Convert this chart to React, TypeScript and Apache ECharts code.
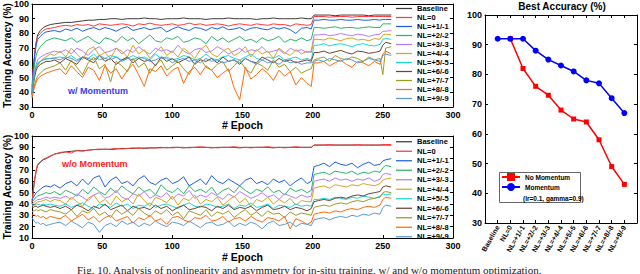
import { useEffect, useRef } from 'react';
import * as echarts from 'echarts';

const FONT = 'Liberation Sans, Arial, Helvetica, sans-serif';

// ---------- data ----------
const seriesNames = ['Baseline', 'NL=0', 'NL=+1/-1', 'NL=+2/-2', 'NL=+3/-3', 'NL=+4/-4', 'NL=+5/-5', 'NL=+6/-6', 'NL=+7/-7', 'NL=+8/-8', 'NL=+9/-9'];
const seriesColors = ['#3c3c3c', '#ff3b3b', '#1f5fe6', '#2fb36b', '#b57cf5', '#d8a51c', '#1fd6d6', '#6e4235', '#9c9c22', '#ff6a0e', '#5a9ad6'];

const epochs = [0, 1, 2, 3, 4, 6, 8, 10, 13, 16,
  20, 24, 28, 32, 36, 40, 44, 48, 52, 56, 60, 64, 68, 72, 76, 80, 84, 88, 92, 96, 100, 104, 108, 112, 116, 120, 124, 128, 132, 136, 140, 144, 148, 152, 156, 160, 164, 168, 172, 176, 180, 184, 188, 192, 196,
  199, 201, 204, 208, 212, 216, 220, 224, 228, 232, 236, 240, 244, 248, 250, 252, 256];

// w/ Momentum
const momBaseline = [38, 55, 66, 74, 79, 82, 84, 85, 86, 86.5, 87, 87.5, 87.5, 88, 88.5, 89, 89, 89.5, 89.5, 90, 90, 89.5, 90, 90, 90, 90.5, 90, 90, 89.5, 90, 90, 90, 90.5, 90, 90, 90, 89.5, 90, 90, 90, 90.5, 90, 90, 90, 90, 89.5, 90, 90, 90.5, 90, 90, 90, 90, 90.5, 90, 90, 92.5, 92.5, 92.5, 92.5, 92, 92.5, 92.5, 92.5, 92.5, 92.5, 92, 92.5, 92.5, 92.5, 92.5, 92.5];
const momNL0 = [44, 58, 68, 74, 78, 80, 82, 83, 83.5, 84, 85, 85.5, 85, 86, 85.5, 86, 85, 86.5, 86, 85.5, 86, 86.5, 86, 85, 86.5, 86, 87, 86, 85.5, 86, 86.5, 85.5, 86, 87, 86, 86.5, 85.5, 86, 86.5, 86, 85, 86, 86.5, 86, 85.5, 86.5, 86, 85.5, 86.5, 86, 86, 85, 86.5, 86, 85.5, 86, 91.5, 91.5, 91.5, 91, 91.5, 91.5, 91.5, 91, 91.5, 91.5, 91.5, 91.5, 91.5, 91.5, 91.5, 91.5];
const momNL1 = [42, 56, 66, 72, 76, 78, 80, 81, 81.5, 82, 81, 83, 82, 83.5, 81.5, 83, 84, 82.5, 84, 83, 81.5, 83.5, 84.5, 82, 83, 84, 82.5, 83.5, 84, 81, 83, 84.5, 83, 82, 84, 83.5, 82, 84, 83, 84.5, 82.5, 83, 84, 82, 83.5, 84, 83, 82.5, 84, 83, 84, 82.5, 80, 83.5, 84, 83, 89, 89, 89.5, 89, 89, 89.5, 89, 89, 89.5, 89, 89, 89.5, 89, 89.5, 89.5, 89.5];
const momNL2 = [40, 52, 60, 65, 68, 71, 73, 75, 76, 77, 76, 75, 77, 74, 76, 78, 75, 73, 77, 76, 74, 78, 75, 77, 73, 76, 79, 75, 74, 77, 76, 78, 74, 75, 77, 76, 73, 78, 75, 77, 74, 76, 78, 75, 76, 74, 77, 75, 76, 78, 74, 76, 75, 77, 75, 76, 84, 84, 83.5, 84, 84.5, 83.5, 84, 84, 83.5, 84, 84.5, 84, 84, 86.5, 86.5, 86.5];
const momNL3 = [39, 48, 55, 59, 62, 64, 65, 66, 67, 68, 67, 69, 66, 70, 68, 65, 69, 71, 67, 68, 70, 66, 69, 67, 71, 68, 66, 70, 68, 69, 67, 72, 68, 66, 69, 70, 67, 68, 71, 69, 66, 68, 70, 67, 69, 68, 71, 67, 68, 69, 66, 70, 68, 69, 67, 68, 79, 79, 79.5, 78.5, 79, 80, 79, 78.5, 79.5, 79, 78, 79, 79.5, 81.5, 81.5, 82];
const momNL4 = [37, 45, 52, 56, 58, 61, 63, 64, 66, 65, 68, 64, 70, 66, 62, 69, 71, 65, 67, 63, 70, 68, 64, 72, 66, 69, 63, 67, 71, 65, 68, 64, 70, 67, 63, 69, 72, 66, 64, 68, 70, 65, 67, 71, 64, 69, 66, 68, 63, 70, 67, 65, 69, 66, 68, 67, 76, 76, 75.5, 77, 76, 75, 76.5, 77, 75.5, 76, 75, 76.5, 76, 79, 79.5, 79];
const momNL5 = [40, 48, 54, 58, 60, 61, 62, 63, 63, 63.5, 64, 63, 65, 62, 64, 63, 66, 62, 63, 65, 64, 62, 63, 65, 63, 64, 62, 66, 63, 64, 62, 63, 65, 64, 62, 63, 66, 63, 62, 64, 65, 63, 62, 64, 66, 63, 62, 64, 63, 65, 62, 63, 64, 62, 63, 62, 72, 72, 73, 71.5, 72.5, 73, 72, 71, 72.5, 73, 72, 71.5, 72.5, 76, 76.5, 76];
const momNL6 = [39, 46, 51, 55, 57, 59, 60, 61, 61, 62, 60, 63, 61, 59, 64, 62, 60, 65, 61, 63, 59, 62, 64, 60, 63, 61, 62, 58, 64, 61, 63, 60, 62, 64, 59, 62, 61, 63, 60, 64, 61, 62, 59, 63, 61, 60, 64, 62, 60, 63, 61, 62, 60, 61, 62, 61, 67, 67, 68, 66.5, 67.5, 68.5, 67, 66, 68, 67.5, 66.5, 67, 68, 72, 74, 73];
const momNL7 = [36, 41, 46, 49, 51, 53, 55, 56, 57, 58, 60, 55, 62, 57, 52, 60, 64, 56, 59, 47, 61, 58, 54, 63, 57, 60, 53, 59, 62, 55, 58, 61, 56, 52, 60, 63, 57, 55, 59, 61, 54, 58, 62, 56, 53, 60, 58, 55, 62, 57, 59, 54, 57, 53, 55, 56, 62, 63, 64, 61, 65, 63, 62, 64, 63, 61, 64, 62, 63, 52, 70, 71];
const momNL8 = [37, 41, 44, 47, 49, 51, 52, 53, 54, 55, 56, 52, 58, 54, 50, 57, 55, 48, 58, 53, 56, 49, 55, 59, 52, 44, 56, 54, 58, 51, 55, 57, 46, 54, 57, 52, 58, 55, 50, 53, 56, 43, 35, 57, 49, 52, 56, 53, 48, 55, 51, 54, 45, 50, 46, 44, 60, 60, 61, 58, 60, 62, 59, 57, 61, 60, 58, 61, 59, 66, 68, 66];
const momNL9 = [39, 47, 53, 57, 59, 61, 62, 62.5, 63, 63, 62, 64, 63, 61, 64, 63, 62, 65, 63, 62, 64, 61, 63, 62, 64, 63, 61, 62, 64, 63, 60, 62, 63, 61, 62, 60, 63, 61, 62, 60, 61, 62, 60, 63, 61, 59, 62, 60, 61, 59, 62, 60, 61, 59, 60, 60, 61, 62, 61, 63, 62, 61, 63, 62, 60, 61, 63, 62, 61, 65, 66, 65];

// w/o Momentum
const noBaseline = [40, 52, 62, 69, 74, 77, 79, 80, 82, 84, 85, 86, 86.5, 87, 87, 87.5, 88, 88, 88.5, 88, 88.5, 89, 89, 89, 89.5, 89, 89.5, 89.5, 90, 89.5, 90, 90, 89.5, 90, 90, 90, 90, 89.5, 90, 90, 90, 90, 89.5, 90, 90, 90, 90, 90, 89.5, 90, 90, 90, 90, 90, 90, 90, 92, 92, 92, 92, 92, 92, 92, 92, 92, 92, 92, 92, 92, 92, 92, 92];
const noNL0 = [42, 54, 63, 70, 75, 77.5, 79.5, 80.5, 82.5, 84, 85.5, 86, 85, 87.5, 86.5, 87.5, 88, 88.5, 88, 88.5, 89, 88.5, 89, 89.5, 89, 89.5, 89.5, 89.5, 89.5, 90, 89.5, 90, 90, 89.5, 90, 90.5, 90, 90, 89.5, 90, 90, 90.5, 90, 90, 89.5, 90, 90, 90.5, 90, 90, 89.5, 90, 90.5, 90, 90, 90, 92, 92, 92, 92.5, 92, 92, 92, 92, 92.5, 92, 92, 92, 92, 92.5, 92.5, 92.5];
const noNL1 = [44, 46, 48, 50, 51, 53, 55, 56, 55, 57, 54, 58, 60, 56, 62, 57, 63, 65, 55, 61, 64, 58, 60, 56, 62, 65, 59, 57, 61, 63, 58, 60, 64, 56, 59, 62, 57, 65, 60, 58, 62, 59, 56, 61, 63, 58, 60, 57, 62, 59, 61, 56, 60, 63, 58, 60, 73, 74, 76, 73, 77, 75, 74, 76, 72, 75, 77, 74, 75, 78, 79, 80];
const noNL2 = [42, 43, 45, 46, 47, 48, 49, 50, 49, 51, 48, 52, 50, 47, 53, 49, 55, 51, 48, 54, 50, 56, 52, 49, 55, 51, 53, 48, 57, 52, 50, 54, 49, 56, 51, 53, 50, 55, 48, 52, 54, 50, 56, 52, 49, 53, 51, 55, 50, 52, 48, 54, 51, 53, 50, 52, 66, 67, 68, 66, 69, 68, 67, 69, 66, 68, 67, 69, 68, 72, 74, 73];
const noNL3 = [40, 41, 42, 43, 44, 44, 45, 46, 45, 46, 45, 47, 44, 49, 46, 43, 48, 50, 45, 47, 52, 46, 44, 49, 47, 51, 45, 48, 46, 50, 44, 49, 47, 52, 45, 48, 46, 50, 47, 44, 49, 46, 51, 48, 45, 47, 50, 46, 48, 44, 49, 47, 45, 48, 46, 47, 60, 61, 62, 60, 63, 61, 62, 60, 62, 61, 63, 60, 62, 66, 67, 66];
const noNL4 = [38, 39, 40, 41, 42, 42, 43, 44, 42, 44, 43, 40, 46, 42, 38, 45, 48, 41, 44, 39, 47, 42, 45, 40, 49, 43, 38, 46, 44, 41, 47, 39, 45, 43, 48, 40, 44, 42, 46, 39, 43, 47, 41, 45, 38, 44, 42, 46, 40, 44, 41, 45, 39, 43, 42, 42, 54, 55, 56, 54, 57, 56, 55, 57, 56, 58, 57, 56, 58, 61, 62, 63];
const noNL5 = [39, 39, 39, 40, 40, 39, 40, 39, 40, 39, 38, 40, 37, 39, 41, 38, 36, 40, 39, 37, 41, 38, 40, 36, 39, 38, 41, 37, 39, 40, 38, 36, 39, 41, 38, 37, 40, 39, 37, 38, 40, 36, 39, 38, 41, 37, 38, 40, 36, 39, 38, 37, 40, 38, 39, 38, 44, 44, 45, 44, 46, 45, 44, 46, 45, 47, 46, 45, 47, 49, 48, 49];
const noNL6 = [37, 37, 38, 38, 37, 38, 39, 38, 37, 38, 36, 38, 35, 39, 37, 34, 38, 36, 40, 35, 37, 39, 34, 38, 36, 37, 35, 39, 36, 38, 34, 37, 39, 35, 36, 38, 37, 34, 38, 36, 39, 35, 37, 36, 38, 34, 37, 39, 35, 36, 38, 35, 37, 36, 34, 36, 42, 43, 44, 43, 45, 46, 45, 47, 48, 47, 49, 50, 51, 55, 56, 55];
const noNL7 = [33, 34, 34, 35, 34, 35, 34, 33, 35, 34, 33, 31, 35, 29, 34, 32, 36, 30, 33, 28, 35, 31, 34, 30, 36, 32, 29, 34, 31, 35, 30, 33, 27, 34, 32, 30, 35, 29, 33, 31, 34, 28, 32, 35, 30, 33, 29, 34, 31, 32, 28, 33, 30, 32, 31, 30, 37, 38, 39, 38, 40, 41, 40, 42, 43, 42, 44, 45, 46, 50, 51, 50];
const noNL8 = [30, 31, 30, 29, 30, 28, 29, 27, 29, 28, 27, 30, 25, 28, 31, 26, 29, 24, 28, 30, 25, 27, 29, 23, 28, 26, 30, 25, 27, 22, 28, 29, 26, 24, 28, 27, 30, 25, 26, 29, 24, 27, 28, 25, 29, 26, 24, 28, 27, 25, 29, 18, 27, 25, 22, 24, 31, 32, 33, 32, 34, 33, 35, 36, 35, 37, 38, 37, 39, 44, 46, 45];
const noNL9 = [28, 26, 24, 23, 24, 22, 23, 21, 22, 23, 24, 21, 25, 22, 19, 24, 22, 15, 21, 23, 20, 25, 22, 24, 20, 23, 21, 25, 22, 20, 24, 23, 21, 25, 22, 19, 23, 24, 21, 22, 25, 20, 23, 21, 24, 22, 18, 23, 25, 21, 22, 24, 20, 23, 22, 21, 26, 27, 28, 26, 28, 29, 28, 30, 29, 31, 30, 32, 31, 37, 39, 38];

const momSeries = [momBaseline, momNL0, momNL1, momNL2, momNL3, momNL4, momNL5, momNL6, momNL7, momNL8, momNL9];
const noMomSeries = [noBaseline, noNL0, noNL1, noNL2, noNL3, noNL4, noNL5, noNL6, noNL7, noNL8, noNL9];

// Best accuracy panel
const bestCategories = ['Baseline', 'NL=0', 'NL=+1/-1', 'NL=+2/-2', 'NL=+3/-3', 'NL=+4/-4', 'NL=+5/-5', 'NL=+6/-6', 'NL=+7/-7', 'NL=+8/-8', 'NL=+9/-9'];
const bestNoMomentum: (number | null)[] = [null, 92, 82, 76, 73, 68, 65, 64, 58, 49, 43];
const bestMomentum = [92, 92, 92, 88, 85, 83, 81, 78, 77, 72, 67];

// ---------- helpers ----------
const boldText = (size: number) => ({ fontSize: size, fontWeight: 'bold' as const, color: '#000', fontFamily: FONT });
const axisLine = { show: true, onZero: false, lineStyle: { color: '#000', width: 1 } };
const axisTick = { show: true, inside: true, length: 3, lineStyle: { color: '#000', width: 1 } };

function xPair(grid: number, min: number, max: number, interval: number, label: any, name?: string, nameGap?: number) {
  return [
    {
      type: 'value', gridIndex: grid, position: 'bottom', min, max, interval,
      axisLine, axisTick, splitLine: { show: false }, axisLabel: label,
      name: name || '', nameLocation: 'middle', nameGap: nameGap || 0, nameMoveOverlap: false,
      nameTextStyle: boldText(10.5),
    },
    {
      type: 'value', gridIndex: grid, position: 'top', min, max, interval,
      axisLine, axisTick, splitLine: { show: false }, axisLabel: { show: false },
    },
  ];
}

function yPair(grid: number, min: number, max: number, interval: number, name?: string) {
  return [
    {
      type: 'value', gridIndex: grid, position: 'left', min, max, interval,
      axisLine, axisTick, splitLine: { show: false },
      axisLabel: { ...boldText(9), margin: 3 },
      name: name || '', nameLocation: 'middle', nameRotate: 90, nameGap: 20, nameMoveOverlap: false,
      nameTextStyle: boldText(10),
    },
    {
      type: 'value', gridIndex: grid, position: 'right', min, max, interval,
      axisLine, axisTick, splitLine: { show: false }, axisLabel: { show: false },
    },
  ];
}

function lineSeries(data: number[][], xi: number, yi: number) {
  return data.map((arr, i) => ({
    type: 'line', name: seriesNames[i], xAxisIndex: xi, yAxisIndex: yi,
    data: epochs.map((e, k) => [e, arr[k]]),
    symbol: 'none', silent: true,
    lineStyle: { width: 1, color: seriesColors[i] },
    itemStyle: { color: seriesColors[i] },
  }));
}

function panelLegend(top: number, step: number) {
  return {
    orient: 'vertical', left: 396, top, padding: 0, itemGap: 0,
    itemWidth: 16, itemHeight: step, selectedMode: false,
    icon: 'path://M0,0H64V5H0Z',
    data: seriesNames,
    textStyle: { ...boldText(7.5), lineHeight: step },
  };
}

const xLabelLeft = { ...boldText(9), margin: 3 };

const option: any = {
  animation: false,
  backgroundColor: '#fff',
  grid: [
    { left: 32, top: 4, width: 421, height: 103, outerBoundsMode: 'none', containLabel: false },
    { left: 32, top: 136, width: 421, height: 102, outerBoundsMode: 'none', containLabel: false },
    { left: 485, top: 15, width: 152, height: 208, outerBoundsMode: 'none', containLabel: false },
  ],
  xAxis: [
    ...xPair(0, 0, 300, 50, xLabelLeft, '# Epoch', 12),
    ...xPair(1, 0, 300, 50, xLabelLeft, '# Epoch', 13),
    ...xPair(2, -1, 11, 1, {
      ...boldText(7), margin: 3, rotate: 60,
      formatter: (v: number) => bestCategories[Math.round(v)] ?? '',
    }),
  ],
  yAxis: [
    ...yPair(0, 30, 100, 10, 'Training Accuracy (%)'),
    ...yPair(1, 10, 100, 10, 'Training Accuracy (%)'),
    ...yPair(2, 30, 100, 10),
  ],
  legend: [
    panelLegend(4, 9),
    panelLegend(137, 9.5),
    {
      orient: 'vertical', left: 501, top: 172, padding: 0, itemGap: 0,
      itemWidth: 18, itemHeight: 10, selectedMode: false,
      data: ['No Momentum', 'Momentum'],
      textStyle: { ...boldText(6.5), lineHeight: 10 },
    },
  ],
  series: [
    ...lineSeries(momSeries, 0, 0),
    ...lineSeries(noMomSeries, 2, 2),
    {
      type: 'line', name: 'No Momentum', xAxisIndex: 4, yAxisIndex: 4, silent: true,
      data: bestNoMomentum.map((v, i) => (v == null ? null : [i, v])).filter((d) => d !== null),
      symbol: 'rect', symbolSize: 5,
      lineStyle: { width: 1.5, color: '#ff0000' }, itemStyle: { color: '#ff0000' },
    },
    {
      type: 'line', name: 'Momentum', xAxisIndex: 4, yAxisIndex: 4, silent: true,
      data: bestMomentum.map((v, i) => [i, v]),
      symbol: 'circle', symbolSize: 6,
      lineStyle: { width: 1.5, color: '#0000ff' }, itemStyle: { color: '#0000ff' },
    },
  ],
  graphic: [
    {
      type: 'text', x: 68, y: 91, z: 10,
      style: { text: 'w/ Momentum', fill: '#3b3bf0', font: `bold 9px ${FONT}`, verticalAlign: 'middle', align: 'left' },
    },
    {
      type: 'text', x: 62, y: 164, z: 10,
      style: { text: 'w/o Momentum', fill: '#ff2020', font: `bold 9px ${FONT}`, verticalAlign: 'middle', align: 'left' },
    },
    {
      type: 'text', x: 562, y: 6, z: 10,
      style: { text: 'Best Accuracy (%)', fill: '#000', font: `bold 10px ${FONT}`, verticalAlign: 'middle', align: 'center' },
    },
    {
      type: 'rect', z: 2,
      shape: { x: 499.5, y: 172.5, width: 81, height: 30 },
      style: { fill: '#fff', stroke: '#666', lineWidth: 1 },
    },
    {
      type: 'text', x: 523, y: 198, z: 10,
      style: { text: '(lr=0.1, gamma=0.9)', fill: '#000', font: `bold 6.5px ${FONT}`, verticalAlign: 'middle', align: 'left' },
    },
    {
      type: 'text', x: 77, y: 270, z: 10,
      style: {
        text: 'Fig. 10. Analysis of nonlinearity and asymmetry for in-situ training, w/ and w/o momentum optimization.',
        fill: '#222', font: '11px Liberation Serif, Times New Roman, serif', verticalAlign: 'middle', align: 'left',
      },
    },
  ],
};

export default function App() {
  const ref = useRef<HTMLDivElement>(null);
  useEffect(() => {
    if (!ref.current) return;
    const chart = echarts.init(ref.current, null, { renderer: 'svg' });
    chart.setOption(option);
    return () => chart.dispose();
  }, []);
  return (
    <div
      ref={ref}
      style={{ position: 'absolute', left: 0, top: 0, width: 640, height: 274, background: '#fff' }}
    />
  );
}
